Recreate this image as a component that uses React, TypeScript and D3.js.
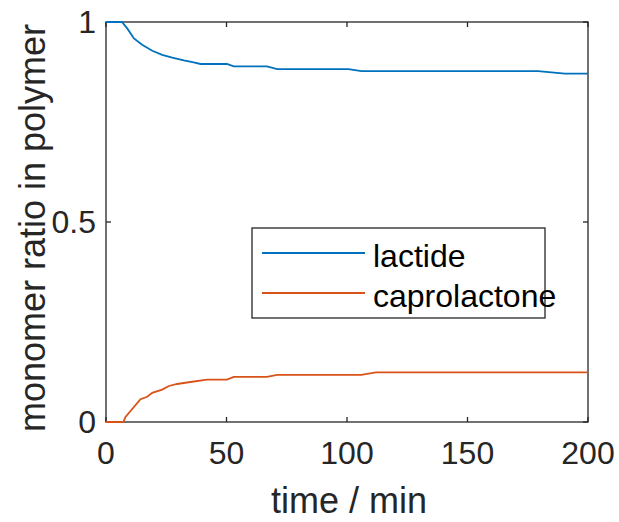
import React from 'react';
import * as d3 from 'd3';

// values
const lactideTime = [0, 6.6, 8.8, 11.6, 15, 19.2, 23.3, 27.5, 32.3, 36.4, 39.2, 50.2, 53, 66.8, 71, 100.6, 106, 179.3, 190.4, 200];
const lactide = [1, 1, 0.984, 0.959, 0.943, 0.928, 0.918, 0.911, 0.904, 0.899, 0.895, 0.895, 0.889, 0.889, 0.882, 0.882, 0.877, 0.877, 0.871, 0.871];

const caproTime = [0, 7.2, 8.1, 14.3, 17.1, 19.2, 23.3, 26.1, 29.5, 35, 41.9, 50.2, 53, 66.8, 71, 106, 112, 200];
const caprolactone = [0, 0, 0.0125, 0.057, 0.063, 0.073, 0.081, 0.09, 0.095, 0.1, 0.106, 0.106, 0.113, 0.113, 0.118, 0.118, 0.124, 0.124];

const xTicks = [0, 50, 100, 150, 200];
const yTicks = [0, 0.5, 1];
const yTickLabels = ['0', '0.5', '1'];

const seriesNames = ['lactide', 'caprolactone'];
const seriesColors = ['#0072BD', '#D95319'];

const W = 619;
const H = 522;
const font = '"Liberation Sans", Arial, Helvetica, sans-serif';
const axisColor = '#262626';

const App = () => {
  const left = 106, right = 588, top = 22, bottom = 422;
  const x = d3.scaleLinear().domain([0, 200]).range([left, right]);
  const y = d3.scaleLinear().domain([0, 1]).range([bottom, top]);
  const tickLen = 5;

  const line = d3.line<[number, number]>()
    .x((d) => x(d[0]))
    .y((d) => y(d[1]));

  const lactidePts = lactideTime.map((t, i) => [t, lactide[i]] as [number, number]);
  const caproPts = caproTime.map((t, i) => [t, caprolactone[i]] as [number, number]);

  // legend box
  const lg = { x: 252, y: 228, w: 293, h: 90 };

  return (
    <svg width={W} height={H} style={{ position: 'absolute', left: 0, top: 0, background: '#fff' }}
      fontFamily={font}>
      <rect x={0} y={0} width={W} height={H} fill="#fff" />

      {/* ticks */}
      {xTicks.map((t) => (
        <g key={'x' + t}>
          <line x1={x(t)} x2={x(t)} y1={bottom} y2={bottom - tickLen} stroke={axisColor} strokeWidth={1.3} />
          <line x1={x(t)} x2={x(t)} y1={top} y2={top + tickLen} stroke={axisColor} strokeWidth={1.3} />
          <text x={x(t)} y={bottom + 42} textAnchor="middle" fontSize={32} fill={axisColor}>{t}</text>
        </g>
      ))}
      {yTicks.map((t, i) => (
        <g key={'y' + t}>
          <line x1={left} x2={left + tickLen} y1={y(t)} y2={y(t)} stroke={axisColor} strokeWidth={1.3} />
          <line x1={right} x2={right - tickLen} y1={y(t)} y2={y(t)} stroke={axisColor} strokeWidth={1.3} />
          <text x={96} y={y(t) + 11} textAnchor="end" fontSize={32} fill={axisColor}>{yTickLabels[i]}</text>
        </g>
      ))}

      {/* box */}
      <rect x={left} y={top} width={right - left} height={bottom - top} fill="none" stroke={axisColor} strokeWidth={1.3} />

      {/* axis labels */}
      <text x={(left + right) / 2 + 2} y={513} textAnchor="middle" fontSize={36} fill={axisColor}>time / min</text>
      <text transform={`translate(45,${(top + bottom) / 2 + 6}) rotate(-90)`} textAnchor="middle" fontSize={36} fill={axisColor}>
        monomer ratio in polymer
      </text>

      {/* series */}
      <path d={line(lactidePts) || ''} fill="none" stroke={seriesColors[0]} strokeWidth={1.8} />
      <path d={line(caproPts) || ''} fill="none" stroke={seriesColors[1]} strokeWidth={1.8} />

      {/* legend */}
      <rect x={lg.x} y={lg.y} width={lg.w} height={lg.h} fill="#fff" stroke={axisColor} strokeWidth={1.3} />
      {seriesNames.map((name, i) => (
        <g key={name}>
          <line x1={262} x2={365} y1={253 + i * 40} y2={253 + i * 40} stroke={seriesColors[i]} strokeWidth={1.8} />
          <text x={373} y={267 + i * 40} fontSize={32} fill="#000">{name}</text>
        </g>
      ))}
    </svg>
  );
};

export default App;
